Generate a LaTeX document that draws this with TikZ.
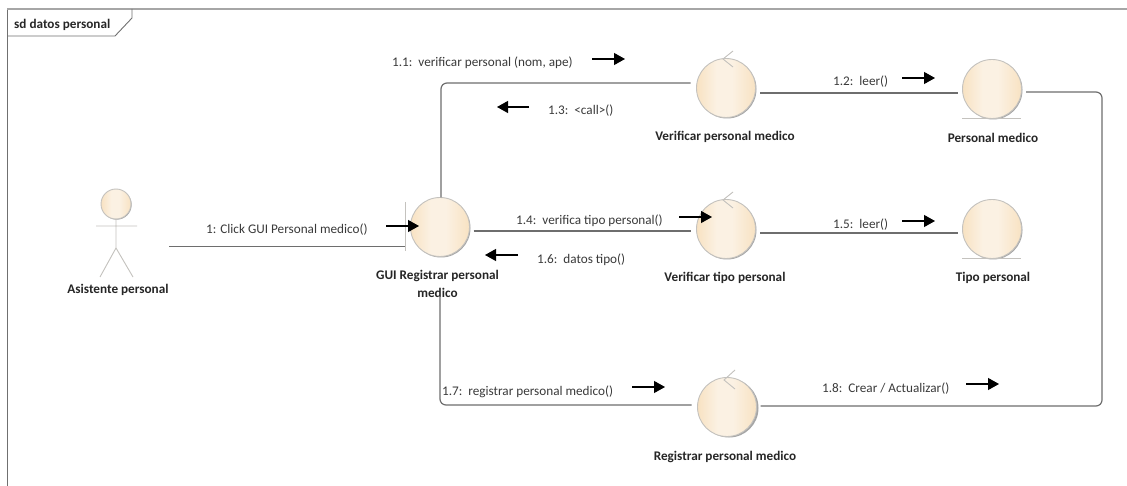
\documentclass[tikz,border=0pt]{standalone}
\usepackage{fontspec}
\setmainfont{Carlito}
\usetikzlibrary{arrows.meta}
\definecolor{robEdge}{HTML}{F8E2C2}
\definecolor{robMid}{HTML}{FBF1E3}
\definecolor{robLine}{HTML}{C4C2BE}
\definecolor{connLine}{HTML}{6E6E6E}
\definecolor{frameLine}{HTML}{707070}
\definecolor{txt}{HTML}{3A3A3A}
\pgfdeclarehorizontalshading{robshade}{100bp}{color(0bp)=(robEdge);color(25bp)=(robEdge);color(42bp)=(robMid);color(55bp)=(robMid);color(75bp)=(robEdge);color(100bp)=(robEdge)}
\tikzset{
  robot/.style={circle,draw=robLine,line width=0.9pt,shading=robshade,minimum size=59pt,inner sep=0pt,outer sep=0pt},
  robotsm/.style={robot,minimum size=30pt},
  shadowc/.style={circle,fill=black!35,minimum size=59pt,inner sep=0pt},
  deco/.style={draw=robLine,line width=0.9pt},
  conn/.style={draw=connLine,line width=1.2pt,rounded corners=6pt},
  flow/.style={draw=black,line width=1.2pt,-{Triangle[length=11pt,width=12pt]}},
  msg/.style={font=\fontsize{13.2}{14}\selectfont,text=txt,inner sep=0pt},
  lbl/.style={font=\fontsize{13.2}{18}\selectfont\bfseries,text=black!85,inner sep=0pt,align=center},
  framel/.style={draw=frameLine,line width=0.9pt}
}
\newcommand{\flowmark}[4]{\coordinate (#1a) at (#2,#4);\coordinate (#1b) at (#3,#4);\draw[flow] (#1a) -- (#1b);}
\begin{document}
\begin{tikzpicture}[x=1pt,y=-1pt]
\useasboundingbox (0,0) rectangle (1127,486);
\fill[white] (0,0) rectangle (1127,486);
% frame
\draw[framel] (7,486) -- (7,9);
\draw[draw=black!35,line width=1.4pt] (7,9) -- (1127,9);
\draw[framel] (7,36) -- (115,36) -- (132,18) -- (132,9);
\node[lbl,anchor=west] (title) at (14,25) {sd datos personal};
% shadows
\foreach \p in {(441,228),(727,89),(727,230),(993,90),(993,230),(729,408)} \node[shadowc] at \p {};
\node[shadowc,minimum size=30pt] at (116.7,204.7) {};
% actor
\node[robotsm] (act) at (116,204) {};
\draw[deco] (act.south) -- (116,248) coordinate (hip) (96,226) -- (137,226) (100,277) -- (hip) -- (133,277);
\node[lbl] (actl) at (118,290) {Asistente personal};
% robustness
\node[robot] (gui) at (440,227) {};
\draw[deco] (405,202) -- (405,251) (381,246) -- (405,246);
\node[lbl] (guil) at (437.5,284) {GUI Registrar personal\\medico};
\node[robot] (vp) at (726,88) {};
\draw[deco] (733,51) -- (723,59) -- (733,67);
\node[lbl] (vpl) at (725,136.5) {Verificar personal medico};
\node[robot] (vt) at (726,229) {};
\draw[deco] (733,192) -- (723,200) -- (733,208);
\node[lbl] (vtl) at (725,278) {Verificar tipo personal};
\node[robot] (pm) at (992,89) {};
\draw[deco] (962,118) -- (1021,118);
\node[lbl] (pml) at (993,137.5) {Personal medico};
\node[robot] (tp) at (992,229) {};
\draw[deco] (962,258) -- (1021,258);
\node[lbl] (tpl) at (993,278) {Tipo personal};
\node[robot] (rp) at (727,407) {};
\draw[deco] (735,370) -- (724,380) -- (735,389);
\node[lbl] (rpl) at (725,457) {Registrar personal medico};
% connectors
\draw[conn] (gui.north) ++(1,0) |- ([xshift=-6pt,yshift=5pt]vp.west);
\draw[conn] ([xshift=4pt,yshift=-4pt]gui.east) -- ([xshift=-6pt,yshift=-2pt]vt.west);
\draw[conn] ([xshift=4.5pt,yshift=-5pt]vp.east) -- ([xshift=-5pt,yshift=-4pt]pm.west);
\draw[conn] ([xshift=4.5pt,yshift=-4pt]vt.east) -- ([xshift=-5pt,yshift=-4pt]tp.west);
\draw[conn] ([xshift=38pt,yshift=-42.5pt]act.east) -- ([xshift=-5.5pt,yshift=-19.5pt]gui.west);
\draw[conn] ([yshift=-40pt]gui.south) |- ([xshift=-6pt,yshift=2pt]rp.west);
\draw[conn] ([xshift=4.5pt,yshift=-3pt]pm.east) -- (1102,92) -- (1102,406) -- ([xshift=4pt,yshift=1pt]rp.east);
% message labels
\node[msg,anchor=west] (m11) at (392,63) {1.1:\ \ verificar personal (nom, ape)};
\node[msg,anchor=west] (m12) at (833,82) {1.2:\ \ leer()};
\node[msg,anchor=west] (m13) at (548,111) {1.3:\ \ <call>()};
\node[msg,anchor=west] (m14) at (516,221) {1.4:\ \ verifica tipo personal()};
\node[msg,anchor=west] (m15) at (833,225) {1.5:\ \ leer()};
\node[msg,anchor=west] (m16) at (537,260) {1.6:\ \ datos tipo()};
\node[msg,anchor=west] (m17) at (442,392) {1.7:\ \ registrar personal medico()};
\node[msg,anchor=west] (m18) at (822,389) {1.8:\ \ Crear / Actualizar()};
\node[msg,anchor=west] (m1) at (206,230) {1: Click GUI Personal medico()};
% flow markers
\flowmark{f1}{386}{419}{226}
\flowmark{f11}{592}{625}{59}
\flowmark{f13}{529}{497}{107}
\flowmark{f14}{679}{712}{217}
\flowmark{f16}{518}{485}{255}
\flowmark{f12}{902}{935}{78}
\flowmark{f15}{902}{935}{221}
\flowmark{f17}{632}{665}{387}
\flowmark{f18}{966}{999}{384}
\end{tikzpicture}
\end{document}
